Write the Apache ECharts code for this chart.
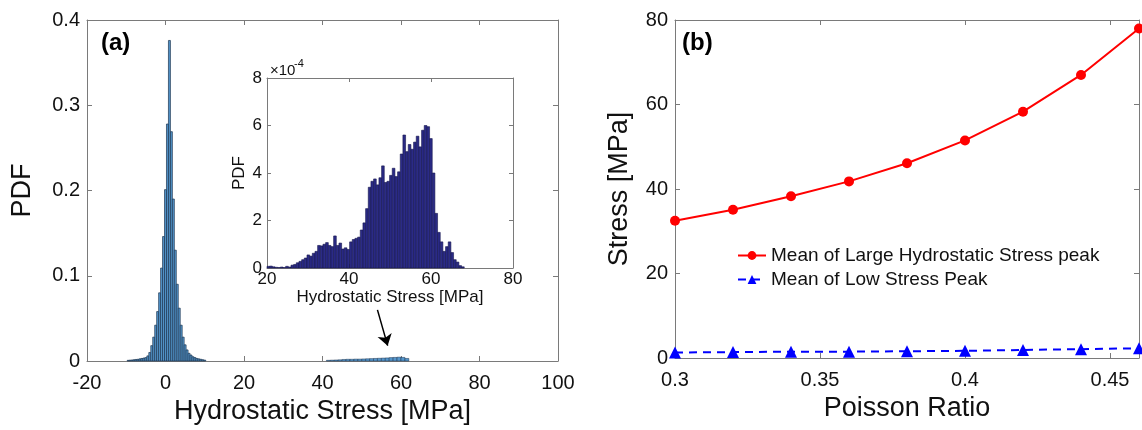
<!DOCTYPE html>
<html>
<head>
<meta charset="utf-8">
<script src="https://cdn.jsdelivr.net/npm/echarts@6/dist/echarts.min.js"></script>
<style>
html,body{margin:0;padding:0;background:#fff;}
#chart{width:1142px;height:430px;}
</style>
</head>
<body>
<div id="chart"></div>
<script>
// ---------------- DATA ----------------
// (a) main histogram: PDF of hydrostatic stress, bins of 0.5 MPa starting at -9.75 MPa
const mainBinStart = -9.75;
const mainBinWidth = 0.5;
const mainPdf = [0.0008, 0.001, 0.0012, 0.0015, 0.0018, 0.002, 0.0025, 0.003, 0.0035, 0.004,
                 0.006, 0.01, 0.018, 0.028, 0.042, 0.058, 0.08, 0.109, 0.146, 0.201,
                 0.278, 0.376, 0.269, 0.19, 0.13, 0.09, 0.062, 0.042, 0.028, 0.019,
                 0.013, 0.009, 0.007, 0.005, 0.004, 0.003, 0.0025, 0.002, 0.0015, 0.001];
// (a) main histogram: high-stress hump, bins of 1 MPa starting at 41 MPa
const humpBinStart = 41;
const humpBinWidth = 1;
const humpPdf = [0.0008, 0.001, 0.0012, 0.0014, 0.0018, 0.002, 0.002, 0.0022, 0.0022, 0.0024, 0.0026,
                 0.0028, 0.003, 0.0032, 0.0034, 0.0036, 0.004, 0.0042, 0.0045, 0.0042, 0.003];
// (a) inset histogram (PDF in units of 1e-4), bins of 0.65 MPa starting at 20 MPa
const insetBinStart = 20;
const insetBinWidth = 0.65;
const insetPdf = [0.07, 0.08, 0.05, 0.03, 0.02, 0.04, 0.02, 0.07, 0.04, 0.12,
                  0.15, 0.22, 0.28, 0.35, 0.42, 0.55, 0.5, 0.62, 0.7, 0.95,
                  0.93, 1.0, 1.07, 0.95, 0.9, 1.35, 0.95, 1.05, 0.8, 0.85,
                  0.78, 1.1, 1.2, 1.25, 1.3, 1.6, 1.9, 2.5, 3.4, 3.65,
                  3.75, 3.5, 3.8, 4.3, 3.6, 3.65, 3.9, 4.2, 3.85, 4.05,
                  4.8, 5.6, 4.9, 5.2, 5.0, 5.3, 5.55, 5.1, 5.8, 6.0,
                  5.95, 5.45, 4.0, 2.3, 1.5, 1.1, 0.7, 0.9, 1.1, 0.65,
                  0.35, 0.25, 0.1, 0.05];
// arrow annotation in panel (a), data units [MPa, PDF]
const arrowFrom = [54.0, 0.060];
const arrowTo = [56.6, 0.018];

// (b) Poisson ratio vs stress
const poisson = [0.30, 0.32, 0.34, 0.36, 0.38, 0.40, 0.42, 0.44, 0.46];
const largePeakMean = [32.5, 35.1, 38.3, 41.8, 46.1, 51.5, 58.3, 67.0, 78.0];
const lowPeakMean = [1.3, 1.4, 1.5, 1.5, 1.6, 1.7, 1.9, 2.1, 2.3];

const seriesNames = ['Mean of Large Hydrostatic Stress peak', 'Mean of Low Stress Peak'];
const mainXTitle = 'Hydrostatic Stress [MPa]';
const mainYTitle = 'PDF';
const insetXTitle = 'Hydrostatic Stress [MPa]';
const insetYTitle = 'PDF';
const rightXTitle = 'Poisson Ratio';
const rightYTitle = 'Stress [MPa]';

// ---------------- BUILD ----------------
function bins(start, width, vals) {
  return vals.map((v, i) => [start + i * width, start + (i + 1) * width, v]);
}
const FONT = '"Liberation Sans", Arial, Helvetica, sans-serif';
const AX = '#7a7a7a';
const TXT = '#111';

function histRender(fill, stroke, lw) {
  return function (params, api) {
    const p0 = api.coord([api.value(0), api.value(2)]);
    const p1 = api.coord([api.value(1), 0]);
    return {
      type: 'rect',
      shape: { x: p0[0], y: p0[1], width: p1[0] - p0[0], height: p1[1] - p0[1] },
      style: { fill: fill, stroke: stroke, lineWidth: lw }
    };
  };
}

function axis(o) {
  return {
    type: 'value',
    gridIndex: o.grid,
    position: o.position,
    min: o.min, max: o.max, interval: o.interval,
    name: o.name || '',
    nameLocation: 'middle',
    nameGap: o.nameGap || 0,
    nameTextStyle: { color: TXT, fontFamily: FONT, fontSize: o.nameSize || 27 },
    axisLine: { show: true, onZero: false, lineStyle: { color: AX, width: 1 } },
    axisTick: { show: true, inside: true, length: o.tickLen || 5, lineStyle: { color: AX, width: 1 } },
    splitLine: { show: false },
    axisLabel: {
      show: !!o.labels, color: TXT, fontFamily: FONT, fontSize: o.labelSize || 20,
      margin: o.margin || 8, formatter: o.formatter
    }
  };
}

const fmtRight = v => (Math.abs(v - 0.46) < 1e-6 ? '' : String(+v.toFixed(2)));

const option = {
  animation: false,
  backgroundColor: '#fff',
  grid: [
    { left: 87, top: 20, width: 471, height: 341, containLabel: false },
    { left: 267, top: 78, width: 246, height: 190, containLabel: false, show: true, backgroundColor: '#fff', borderWidth: 0 },
    { left: 675, top: 20, width: 466, height: 338, containLabel: false }
  ],
  xAxis: [
    axis({ grid: 0, position: 'bottom', min: -20, max: 100, interval: 20, labels: true, margin: 12, name: mainXTitle, nameGap: 34 }),
    axis({ grid: 0, position: 'top', min: -20, max: 100, interval: 20 }),
    axis({ grid: 1, position: 'bottom', min: 20, max: 80, interval: 20, labels: true, labelSize: 17, margin: 3, name: insetXTitle, nameSize: 17, nameGap: 20, tickLen: 4 }),
    axis({ grid: 1, position: 'top', min: 20, max: 80, interval: 20, tickLen: 4 }),
    axis({ grid: 2, position: 'bottom', min: 0.3, max: 0.46, interval: 0.05, labels: true, margin: 12, formatter: fmtRight, name: rightXTitle, nameGap: 36 }),
    axis({ grid: 2, position: 'top', min: 0.3, max: 0.46, interval: 0.05 })
  ],
  yAxis: [
    axis({ grid: 0, position: 'left', min: 0, max: 0.4, interval: 0.1, labels: true, margin: 7, name: mainYTitle, nameGap: 51 }),
    axis({ grid: 0, position: 'right', min: 0, max: 0.4, interval: 0.1 }),
    axis({ grid: 1, position: 'left', min: 0, max: 8, interval: 2, labels: true, labelSize: 17, margin: 5, name: insetYTitle, nameSize: 17, nameGap: 19, tickLen: 4 }),
    axis({ grid: 1, position: 'right', min: 0, max: 8, interval: 2, tickLen: 4 }),
    axis({ grid: 2, position: 'left', min: 0, max: 80, interval: 20, labels: true, margin: 7, name: rightYTitle, nameGap: 42 }),
    axis({ grid: 2, position: 'right', min: 0, max: 80, interval: 20 })
  ],
  legend: {
    orient: 'vertical', left: 737, top: 246, padding: 0,
    itemWidth: 28, itemHeight: 11, itemGap: 5,
    textStyle: { color: TXT, fontFamily: FONT, fontSize: 19 },
    data: seriesNames
  },
  graphic: [
    { type: 'text', left: 101, top: 31, style: { text: '(a)', fill: '#000', font: 'bold 24px ' + FONT } },
    { type: 'text', left: 682, top: 31, style: { text: '(b)', fill: '#000', font: 'bold 24px ' + FONT } },
    { type: 'text', left: 270, top: 63, style: { text: '\u00d710', fill: TXT, font: '15px ' + FONT } },
    { type: 'text', left: 294, top: 58, style: { text: '-4', fill: TXT, font: '11px ' + FONT } }
  ],
  series: [
    {
      type: 'custom', name: 'main', xAxisIndex: 0, yAxisIndex: 0,
      renderItem: histRender('#5496cc', '#1c3550', 0.7),
      encode: { x: [0, 1], y: 2 },
      data: bins(mainBinStart, mainBinWidth, mainPdf),
      markLine: {
        silent: true, symbol: ['none', 'arrow'], symbolSize: 11,
        lineStyle: { color: '#000', width: 1.5, type: 'solid' },
        label: { show: false },
        emphasis: { disabled: true },
        data: [[{ coord: arrowFrom }, { coord: arrowTo }]]
      }
    },
    {
      type: 'custom', name: 'hump', xAxisIndex: 0, yAxisIndex: 0,
      renderItem: histRender('#5496cc', '#1c3550', 0.5),
      encode: { x: [0, 1], y: 2 },
      data: bins(humpBinStart, humpBinWidth, humpPdf)
    },
    {
      type: 'custom', name: 'inset', xAxisIndex: 2, yAxisIndex: 2, z: 5,
      renderItem: histRender('#2b2b86', '#15154d', 0.6),
      encode: { x: [0, 1], y: 2 },
      data: bins(insetBinStart, insetBinWidth, insetPdf)
    },
    {
      type: 'line', name: seriesNames[0], xAxisIndex: 4, yAxisIndex: 4,
      data: poisson.map((p, i) => [p, largePeakMean[i]]),
      symbol: 'circle', symbolSize: 10,
      itemStyle: { color: '#ff0000' },
      lineStyle: { color: '#ff0000', width: 2 }
    },
    {
      type: 'line', name: seriesNames[1], xAxisIndex: 4, yAxisIndex: 4,
      data: poisson.map((p, i) => [p, lowPeakMean[i]]),
      symbol: 'triangle', symbolSize: 12,
      itemStyle: { color: '#0000ff' },
      lineStyle: { color: '#0000ff', width: 2, type: [8, 6] }
    }
  ]
};

const chart = echarts.init(document.getElementById('chart'), null, { renderer: 'canvas' });
chart.setOption(option);
</script>
</body>
</html>
